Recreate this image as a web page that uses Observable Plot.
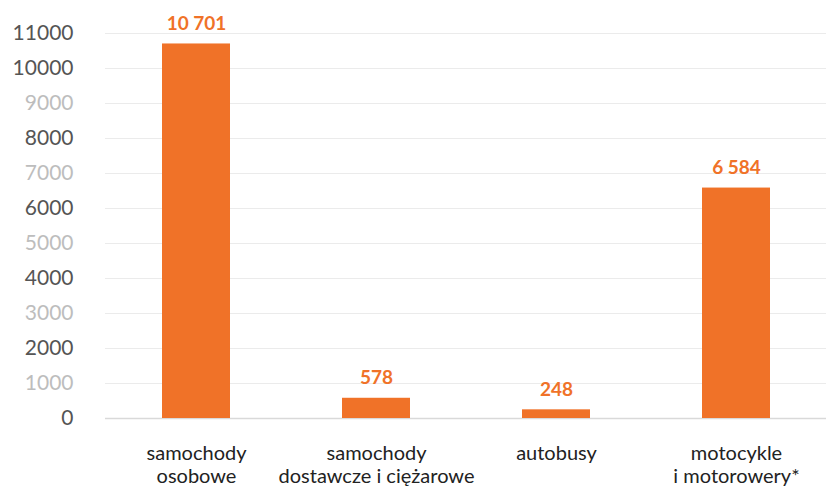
<!DOCTYPE html>
<html>
<head>
<meta charset="utf-8">
<script src="https://cdn.jsdelivr.net/npm/d3@7"></script>
<script src="https://cdn.jsdelivr.net/npm/@observablehq/plot@0.6"></script>
<style>
  html, body { margin: 0; padding: 0; background: #fff; }
  #chart svg { display: block; }
</style>
</head>
<body>
<div id="chart"></div>
<script>
const categories = [
  "samochody\nosobowe",
  "samochody\ndostawcze i ciężarowe",
  "autobusy",
  "motocykle\ni motorowery*"
];
const values = [10701, 578, 248, 6584];
const darkTicks = [0, 2000, 4000, 6000, 8000, 10000, 11000];
const lightTicks = [1000, 3000, 5000, 7000, 9000];
const gridTicks = [1000, 2000, 3000, 4000, 5000, 6000, 7000, 8000, 9000, 10000, 11000];

const data = categories.map((c, i) => ({category: c, value: values[i]}));
const fmt = v => d3.format(",")(v).replace(/,/g, " ");

const orange = "#F07228";

const chart = Plot.plot({
  width: 826,
  height: 486,
  marginLeft: 105,
  marginRight: 0,
  marginTop: 33,
  marginBottom: 68,
  style: {fontFamily: "Lato, sans-serif", background: "#fff"},
  x: {domain: categories, paddingInner: 0.623, paddingOuter: 0.31, label: null},
  y: {domain: [0, 11000], label: null},
  marks: [
    Plot.ruleY(gridTicks, {stroke: "#ebebeb", strokeWidth: 1}),
    Plot.ruleY([0], {stroke: "#d9d9d9", strokeWidth: 1.5}),
    Plot.barY(data, {x: "category", y: "value", fill: orange}),
    Plot.text(data, {
      x: "category", y: "value", text: d => fmt(d.value),
      dy: -20, fill: orange, fontWeight: "bold", fontSize: 19
    }),
    Plot.axisY(darkTicks, {
      tickSize: 0, tickPadding: 32, fontSize: 21, fill: "#555", label: null,
      tickFormat: d => String(d)
    }),
    Plot.axisY(lightTicks, {
      tickSize: 0, tickPadding: 32, fontSize: 21, fill: "#bdbdbd", label: null,
      tickFormat: d => String(d)
    }),
    Plot.axisX({
      tickSize: 0, tickPadding: 26, fontSize: 20, fill: "#222", label: null,
      lineHeight: 1.12
    })
  ]
});
document.getElementById("chart").appendChild(chart);
</script>
</body>
</html>
